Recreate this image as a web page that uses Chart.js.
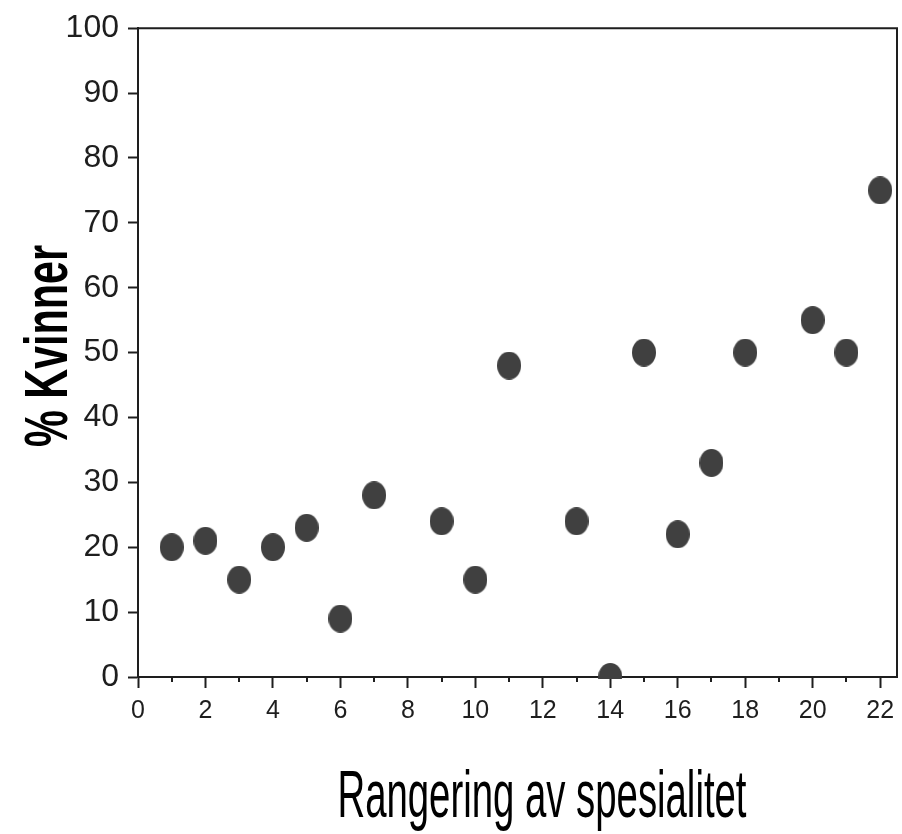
<!DOCTYPE html>
<html>
<head>
<meta charset="utf-8">
<script src="https://cdn.jsdelivr.net/npm/chart.js@4.4.0/dist/chart.umd.min.js"></script>
<style>
  html, body { margin: 0; padding: 0; background: #fff; overflow: hidden; }
  canvas { display: block; }
</style>
</head>
<body>
<canvas id="chart" width="902" height="834"></canvas>
<script>
// rank of specialty (x) and share of women in % (y)
const rankings = [1, 2, 3, 4, 5, 6, 7, 9, 10, 11, 13, 14, 15, 16, 17, 18, 20, 21, 22];
const womenPct = [20, 21, 15, 20, 23, 9, 28, 24, 15, 48, 24, 0, 50, 22, 33, 50, 55, 50, 75];

const xTicks = [0, 2, 4, 6, 8, 10, 12, 14, 16, 18, 20, 22];
const yTicks = [0, 10, 20, 30, 40, 50, 60, 70, 80, 90, 100];

const xTitle = "Rangering av spesialitet";
const yTitle = "% Kvinner";

const ink = "#1e1e1e";
const dotColor = "#404040";
const face = '"Liberation Sans", Arial, sans-serif';

// slightly tall dot, like the original
function makeDot(w, h) {
    const c = document.createElement("canvas");
    c.width = w; c.height = h;
    const g = c.getContext("2d");
    g.fillStyle = dotColor;
    g.beginPath();
    g.ellipse(w / 2, h / 2, w / 2, h / 2, 0, 0, Math.PI * 2);
    g.fill();
    return c;
}
const dot = makeDot(24, 28);

const points = rankings.map((r, i) => ({ x: r, y: womenPct[i] }));

// draw a title squeezed to a given length (the original uses a tall condensed face)
function squeezedText(ctx, text, font, length) {
    ctx.font = font;
    const w = ctx.measureText(text).width;
    ctx.scale(length / w, 1);
    ctx.fillText(text, 0, 0);
}

// box frame, minor ticks and axis titles
const extras = {
    id: "extras",
    afterDraw(chart) {
        const ctx = chart.ctx;
        const a = chart.chartArea;
        const xs = chart.scales.x;

        ctx.save();
        ctx.strokeStyle = ink;
        ctx.lineWidth = 2;
        ctx.beginPath();
        ctx.moveTo(a.left, a.top);
        ctx.lineTo(a.right, a.top);
        ctx.lineTo(a.right, a.bottom);
        ctx.stroke();

        // minor ticks on odd ranks
        ctx.beginPath();
        for (let v = 1; v <= 21; v += 2) {
            const px = Math.round(xs.getPixelForValue(v));
            ctx.moveTo(px, a.bottom);
            ctx.lineTo(px, a.bottom + 5);
        }
        ctx.stroke();

        ctx.fillStyle = "#000";
        ctx.textAlign = "center";
        ctx.textBaseline = "alphabetic";

        // x title
        ctx.save();
        ctx.translate(542, 817);
        squeezedText(ctx, xTitle, "400 66px " + face, 409);
        ctx.restore();

        // y title
        ctx.save();
        ctx.translate(67, 346);
        ctx.rotate(-Math.PI / 2);
        squeezedText(ctx, yTitle, "700 62px " + face, 202);
        ctx.restore();

        ctx.restore();
    }
};

new Chart(document.getElementById("chart"), {
    type: "scatter",
    data: {
        datasets: [{
            data: points,
            pointStyle: dot,
            pointRadius: 12,
            pointHoverRadius: 12,
            clip: { left: 30, right: 30, top: 30, bottom: 2 }
        }]
    },
    options: {
        responsive: false,
        animation: false,
        events: [],
        layout: { autoPadding: false, padding: { left: 0, right: 5, top: 27, bottom: 0 } },
        plugins: {
            legend: { display: false },
            tooltip: { enabled: false }
        },
        scales: {
            x: {
                type: "linear",
                min: 0,
                max: 22.5,
                afterBuildTicks: s => { s.ticks = xTicks.map(v => ({ value: v })); },
                afterFit: s => { s.height = 157; s.paddingLeft = 0; s.paddingRight = 0; },
                border: { display: true, color: ink, width: 2 },
                grid: { drawOnChartArea: false, drawTicks: true, tickLength: 11, tickColor: ink, tickWidth: 2 },
                ticks: {
                    autoSkip: false,
                    maxRotation: 0,
                    padding: 8,
                    color: ink,
                    font: { family: face, size: 25 }
                }
            },
            y: {
                min: 0,
                max: 100,
                afterBuildTicks: s => { s.ticks = yTicks.map(v => ({ value: v })); },
                afterFit: s => { s.width = 138; },
                border: { display: true, color: ink, width: 2 },
                grid: { drawOnChartArea: false, drawTicks: true, tickLength: 10, tickColor: ink, tickWidth: 2 },
                ticks: {
                    padding: 9,
                    color: ink,
                    font: { family: face, size: 32 }
                }
            }
        }
    },
    plugins: [extras]
});
</script>
</body>
</html>
